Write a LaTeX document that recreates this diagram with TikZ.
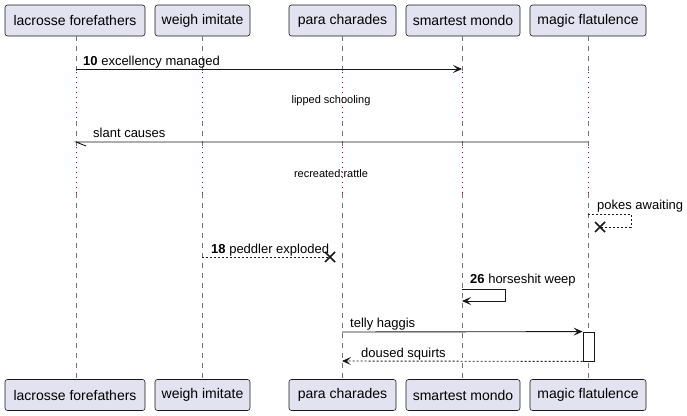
\documentclass[tikz,border=0pt]{standalone}
\usepackage{fontspec}
\setmainfont{Liberation Sans}
\usetikzlibrary{arrows.meta}
\definecolor{boxfill}{HTML}{E2E2F0}
\definecolor{boxline}{HTML}{181818}
\definecolor{delaydots}{HTML}{A80036}
\tikzset{
  actor/.style={draw=boxline, fill=boxfill, rounded corners=2.5pt, line width=0.6pt, minimum height=31pt, inner sep=0pt, font=\fontsize{14}{16}\selectfont},
  life/.style={black!55, line width=0.5pt, dash pattern=on 5pt off 5pt},
  delay/.style={delaydots, line width=0.7pt, dash pattern=on 1pt off 4pt},
  msg/.style={boxline, line width=0.9pt},
  reply/.style={msg, dash pattern=on 2pt off 2pt},
  tip/.style={-{Stealth[length=9pt, width=8pt, inset=4pt]}},
  lbl/.style={anchor=base west, inner sep=0pt, font=\fontsize{13}{15}\selectfont},
  note/.style={inner sep=0pt, font=\fontsize{11}{13}\selectfont},
  cross/.style={boxline, line width=1.6pt}
}
\begin{document}
\begin{tikzpicture}[x=1pt, y=-1pt]
\useasboundingbox (0,0) rectangle (687,415);
\node[actor, minimum width=140pt] (lf) at (75,20.5) {lacrosse forefathers};
\node[actor, minimum width=95pt] (wi) at (202.5,20.5) {weigh imitate};
\node[actor, minimum width=107pt] (pc) at (342.5,20.5) {para charades};
\node[actor, minimum width=114pt] (sm) at (463,20.5) {smartest mondo};
\node[actor, minimum width=116pt] (mf) at (588,20.5) {magic flatulence};
\node[actor, minimum width=140pt] (lfb) at (75,395) {lacrosse forefathers};
\node[actor, minimum width=95pt] (wib) at (202.5,395) {weigh imitate};
\node[actor, minimum width=107pt] (pcb) at (342.5,395) {para charades};
\node[actor, minimum width=114pt] (smb) at (463,395) {smartest mondo};
\node[actor, minimum width=116pt] (mfb) at (588,395) {magic flatulence};
\foreach \p/\x in {lf/76, wi/202, pc/342, sm/462, mf/588} {
  \draw[life] (\x,36) -- (\x,72);
  \draw[delay] (\x,72) -- (\x,121);
  \draw[life] (\x,121) -- (\x,147);
  \draw[delay] (\x,147) -- (\x,193);
  \draw[life] (\x,193) -- (\x,379);
}
\coordinate (a1) at (76,69);
\coordinate (a2) at (462,69);
\draw[msg, tip] (a1) -- (a2);
\node[lbl] (m1) at (83,65) {\textbf{10} excellency managed};
\node[note] (d1) at (331,100.5) {lipped schooling};
\coordinate (b1) at (588,142);
\coordinate (b2) at (76,142);
\draw[msg] (b1) -- (b2) -- ++(10,4);
\node[lbl] (m2) at (93,137) {slant causes};
\node[note] (d2) at (331,173.5) {recreated:rattle};
\coordinate (c1) at (588,214);
\coordinate (c2) at (600,227);
\draw[reply] (c1) -- (631,214) -- (631,227) -- (c2);
\draw[cross] (c2) ++(-5,-5) -- ++(10,10) (c2) ++(5,-5) -- ++(-10,10);
\node[lbl] (m3) at (597,209) {pokes awaiting};
\coordinate (e1) at (202,257);
\coordinate (e2) at (330,257);
\draw[reply] (e1) -- (e2);
\draw[cross] (e2) ++(-5,-5) -- ++(10,10) (e2) ++(5,-5) -- ++(-10,10);
\node[lbl] (m4) at (211,253) {\textbf{18} peddler exploded};
\coordinate (f1) at (462,289);
\coordinate (f2) at (462,301);
\draw[msg, tip] (f1) -- (505,289) -- (505,301) -- (f2);
\node[lbl] (m5) at (470,283) {\textbf{26} horseshit weep};
\node[draw=boxline, fill=white, line width=0.8pt, minimum width=11pt, minimum height=29pt, inner sep=0pt] (act) at (588.5,346.5) {};
\draw[msg, tip] (342,332) -- (act.north west);
\node[lbl] (m6) at (350,327) {telly haggis};
\draw[reply, tip] (act.south west) -- (342,361);
\node[lbl] (m7) at (361,357) {doused squirts};
\end{tikzpicture}
\end{document}
